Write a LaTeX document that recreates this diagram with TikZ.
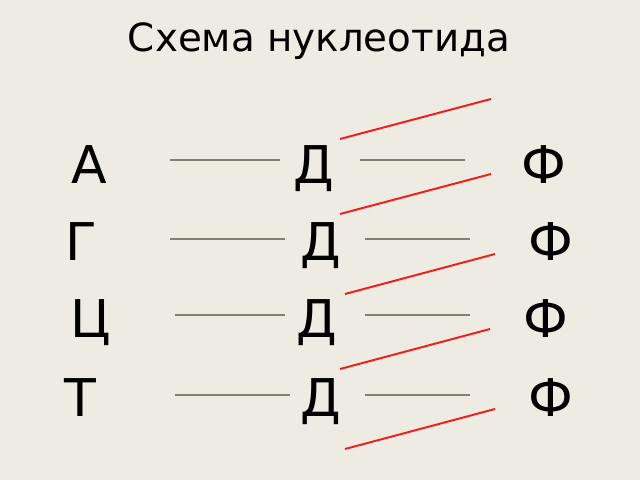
\documentclass[tikz,border=0pt]{standalone}
\usepackage{fontspec}
\setmainfont{DejaVu Sans}
\usepackage{tikz}

\definecolor{slidebg}{RGB}{238,236,226}
\definecolor{blankline}{RGB}{128,128,116}
\definecolor{bondred}{RGB}{240,30,30}

\begin{document}
\begin{tikzpicture}[x=0.025cm,y=-0.025cm]
    \tikzstyle{every node}=[inner sep=0pt,anchor=base];
    \tikzstyle{letter}=[font=\fontsize{37pt}{44pt}\selectfont];
    \tikzstyle{blank}=[draw=blankline,line width=1pt];
    \tikzstyle{bond}=[draw=bondred,line width=1.4pt];

    \fill[slidebg] (0,0) rectangle (640,480);
    \useasboundingbox (0,0) rectangle (640,480);

    \node (title) at (319,52) {\fontsize{27.6pt}{33pt}\selectfont Схема нуклеотида};

    % bases, sugars, phosphates
    \node[letter] (b1) at (89,183) {А};
    \node[letter] (d1) at (314,183) {Д};
    \node[letter] (f1) at (544,183) {Ф};
    \node[letter] (b2) at (81,260) {Г};
    \node[letter] (d2) at (321,260) {Д};
    \node[letter] (f2) at (551,260) {Ф};
    \node[letter] (b3) at (91,337) {Ц};
    \node[letter] (d3) at (317,337) {Д};
    \node[letter] (f3) at (546,337) {Ф};
    \node[letter] (b4) at (80,416) {Т};
    \node[letter] (d4) at (321,416) {Д};
    \node[letter] (f4) at (551,416) {Ф};

    % blanks between the letters
    \coordinate (l1a) at (170,160); \coordinate (l1b) at (280,160);
    \coordinate (r1a) at (360,160); \coordinate (r1b) at (465,160);
    \coordinate (l2a) at (170,239); \coordinate (l2b) at (285,239);
    \coordinate (r2a) at (365,239); \coordinate (r2b) at (470,239);
    \coordinate (l3a) at (175,315); \coordinate (l3b) at (285,315);
    \coordinate (r3a) at (365,315); \coordinate (r3b) at (470,315);
    \coordinate (l4a) at (175,395); \coordinate (l4b) at (290,395);
    \coordinate (r4a) at (365,395); \coordinate (r4b) at (470,395);

    \draw[blank] (l1a) -- (l1b);
    \draw[blank] (r1a) -- (r1b);
    \draw[blank] (l2a) -- (l2b);
    \draw[blank] (r2a) -- (r2b);
    \draw[blank] (l3a) -- (l3b);
    \draw[blank] (r3a) -- (r3b);
    \draw[blank] (l4a) -- (l4b);
    \draw[blank] (r4a) -- (r4b);

    % red strokes
    \coordinate (s1a) at (340,139); \coordinate (s1b) at (491,99);
    \coordinate (s2a) at (340,214); \coordinate (s2b) at (491,174);
    \coordinate (s3a) at (345,294); \coordinate (s3b) at (495,254);
    \coordinate (s4a) at (340,369); \coordinate (s4b) at (490,329);
    \coordinate (s5a) at (345,449); \coordinate (s5b) at (495,409);

    \draw[bond] (s1a) -- (s1b);
    \draw[bond] (s2a) -- (s2b);
    \draw[bond] (s3a) -- (s3b);
    \draw[bond] (s4a) -- (s4b);
    \draw[bond] (s5a) -- (s5b);
\end{tikzpicture}
\end{document}
